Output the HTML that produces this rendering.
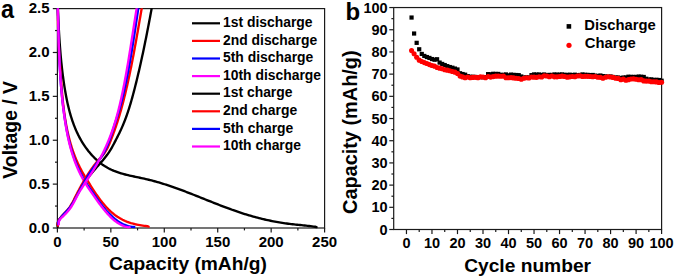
<!DOCTYPE html>
<html><head><meta charset="utf-8"><style>
html,body{margin:0;padding:0;background:#fff;}
body{width:675px;height:278px;overflow:hidden;font-family:"Liberation Sans",sans-serif;}
svg{display:block;}
</style></head><body>
<svg width="675" height="278" viewBox="0 0 675 278">
<g stroke="#1a1a1a" stroke-width="1.2" fill="none">
<rect x="57.40" y="8.60" width="267.20" height="219.40"/>
<line x1="52.80" y1="228.00" x2="57.40" y2="228.00"/>
<line x1="55.00" y1="206.06" x2="57.40" y2="206.06"/>
<line x1="52.80" y1="184.12" x2="57.40" y2="184.12"/>
<line x1="55.00" y1="162.18" x2="57.40" y2="162.18"/>
<line x1="52.80" y1="140.24" x2="57.40" y2="140.24"/>
<line x1="55.00" y1="118.30" x2="57.40" y2="118.30"/>
<line x1="52.80" y1="96.36" x2="57.40" y2="96.36"/>
<line x1="55.00" y1="74.42" x2="57.40" y2="74.42"/>
<line x1="52.80" y1="52.48" x2="57.40" y2="52.48"/>
<line x1="55.00" y1="30.54" x2="57.40" y2="30.54"/>
<line x1="52.80" y1="8.60" x2="57.40" y2="8.60"/>
<line x1="57.40" y1="228.00" x2="57.40" y2="232.40"/>
<line x1="84.12" y1="228.00" x2="84.12" y2="230.40"/>
<line x1="110.84" y1="228.00" x2="110.84" y2="232.40"/>
<line x1="137.56" y1="228.00" x2="137.56" y2="230.40"/>
<line x1="164.28" y1="228.00" x2="164.28" y2="232.40"/>
<line x1="191.00" y1="228.00" x2="191.00" y2="230.40"/>
<line x1="217.72" y1="228.00" x2="217.72" y2="232.40"/>
<line x1="244.44" y1="228.00" x2="244.44" y2="230.40"/>
<line x1="271.16" y1="228.00" x2="271.16" y2="232.40"/>
<line x1="297.88" y1="228.00" x2="297.88" y2="230.40"/>
<line x1="324.60" y1="228.00" x2="324.60" y2="232.40"/>
</g>
<defs><clipPath id="ca"><rect x="50" y="8.3" width="280" height="225"/></clipPath></defs>
<g fill="none" stroke-width="2.35" stroke-linejoin="round" stroke-linecap="round" clip-path="url(#ca)">
<path d="M57.90,8.60 L57.85,10.07 L57.92,11.58 L57.99,13.09 L58.07,14.60 L58.14,16.11 L58.22,17.62 L58.29,19.13 L58.37,20.63 L58.45,22.13 L58.53,23.63 L58.61,25.13 L58.69,26.63 L58.77,28.12 L58.86,29.62 L58.94,31.11 L59.03,32.61 L59.12,34.10 L59.21,35.59 L59.30,37.08 L59.40,38.56 L59.50,40.05 L59.60,41.54 L59.70,43.02 L59.81,44.51 L59.92,45.99 L60.03,47.47 L60.14,48.95 L60.26,50.44 L60.38,51.92 L60.50,53.40 L60.63,54.88 L60.76,56.35 L60.90,57.83 L61.04,59.31 L61.18,60.79 L61.33,62.27 L61.48,63.74 L61.64,65.22 L61.80,66.70 L61.96,68.17 L62.13,69.65 L62.31,71.13 L62.49,72.60 L62.67,74.08 L62.86,75.56 L63.06,77.03 L63.26,78.51 L63.46,79.99 L63.67,81.47 L63.89,82.94 L64.11,84.42 L64.34,85.90 L64.58,87.38 L64.82,88.86 L65.07,90.34 L65.32,91.82 L65.58,93.30 L65.85,94.78 L66.13,96.26 L66.41,97.74 L66.71,99.22 L67.01,100.70 L67.32,102.17 L67.65,103.65 L67.98,105.12 L68.32,106.59 L68.68,108.05 L69.05,109.51 L69.43,110.97 L69.82,112.43 L70.23,113.88 L70.65,115.32 L71.08,116.77 L71.53,118.20 L71.99,119.63 L72.47,121.06 L72.97,122.48 L73.48,123.89 L74.01,125.30 L74.55,126.70 L75.12,128.09 L75.70,129.47 L76.30,130.85 L76.92,132.22 L77.56,133.58 L78.22,134.93 L78.90,136.27 L79.60,137.60 L80.32,138.93 L81.06,140.24 L81.83,141.54 L82.61,142.83 L83.42,144.11 L84.25,145.37 L85.10,146.62 L85.97,147.85 L86.87,149.07 L87.78,150.27 L88.71,151.45 L89.67,152.61 L90.64,153.75 L91.63,154.87 L92.65,155.97 L93.68,157.04 L94.73,158.10 L95.80,159.12 L96.89,160.12 L98.01,161.10 L99.13,162.04 L100.28,162.96 L101.45,163.85 L102.63,164.70 L103.84,165.53 L105.06,166.32 L106.30,167.08 L107.56,167.81 L108.83,168.50 L110.12,169.16 L111.43,169.78 L112.76,170.37 L114.09,170.93 L115.45,171.46 L116.82,171.96 L118.20,172.44 L119.59,172.89 L120.99,173.32 L122.40,173.74 L123.83,174.13 L125.26,174.51 L126.70,174.87 L128.14,175.22 L129.60,175.56 L131.06,175.89 L132.52,176.21 L133.99,176.52 L135.46,176.84 L136.93,177.15 L138.41,177.46 L139.88,177.77 L141.36,178.08 L142.83,178.40 L144.31,178.72 L145.78,179.06 L147.25,179.40 L148.72,179.75 L150.18,180.11 L151.64,180.48 L153.09,180.87 L154.55,181.26 L156.00,181.66 L157.44,182.07 L158.89,182.49 L160.33,182.92 L161.77,183.35 L163.20,183.80 L164.63,184.25 L166.07,184.71 L167.49,185.17 L168.92,185.64 L170.34,186.12 L171.76,186.61 L173.18,187.10 L174.60,187.60 L176.01,188.10 L177.43,188.61 L178.84,189.12 L180.25,189.64 L181.66,190.17 L183.06,190.69 L184.47,191.22 L185.87,191.76 L187.27,192.30 L188.67,192.84 L190.07,193.38 L191.47,193.93 L192.87,194.48 L194.27,195.03 L195.67,195.58 L197.06,196.14 L198.46,196.69 L199.85,197.25 L201.25,197.81 L202.64,198.37 L204.03,198.92 L205.43,199.48 L206.82,200.04 L208.21,200.60 L209.60,201.16 L211.00,201.71 L212.39,202.26 L213.78,202.82 L215.18,203.37 L216.57,203.92 L217.97,204.46 L219.36,205.00 L220.76,205.54 L222.16,206.08 L223.55,206.62 L224.95,207.14 L226.35,207.67 L227.75,208.19 L229.16,208.71 L230.56,209.22 L231.96,209.73 L233.37,210.23 L234.78,210.72 L236.19,211.21 L237.60,211.70 L239.01,212.17 L240.42,212.64 L241.84,213.11 L243.26,213.56 L244.68,214.01 L246.10,214.45 L247.53,214.89 L248.95,215.31 L250.38,215.73 L251.81,216.15 L253.24,216.55 L254.67,216.95 L256.11,217.34 L257.55,217.72 L258.99,218.09 L260.43,218.45 L261.87,218.81 L263.32,219.16 L264.76,219.50 L266.21,219.83 L267.66,220.15 L269.12,220.46 L270.57,220.77 L272.03,221.07 L273.49,221.35 L274.95,221.63 L276.41,221.90 L277.88,222.16 L279.34,222.41 L280.81,222.65 L282.28,222.88 L283.76,223.11 L285.23,223.32 L286.71,223.52 L288.19,223.71 L289.67,223.90 L291.15,224.07 L292.64,224.24 L294.12,224.41 L295.61,224.57 L297.10,224.72 L298.59,224.88 L300.09,225.03 L301.59,225.18 L303.08,225.34 L304.59,225.49 L306.09,225.65 L307.59,225.82 L309.10,225.99 L310.61,226.17 L312.12,226.35 L313.63,226.55 L315.15,226.75 L316.50,227.10" stroke="#000"/>
<path d="M57.90,8.60 L57.95,10.26 L57.94,11.71 L57.93,13.17 L57.92,14.62 L57.92,16.08 L57.93,17.55 L57.94,19.01 L57.95,20.48 L57.97,21.95 L57.99,23.42 L58.02,24.90 L58.05,26.38 L58.09,27.86 L58.13,29.34 L58.17,30.82 L58.22,32.31 L58.27,33.80 L58.33,35.29 L58.39,36.78 L58.45,38.28 L58.52,39.77 L58.59,41.27 L58.66,42.77 L58.73,44.27 L58.81,45.77 L58.89,47.27 L58.97,48.78 L59.06,50.28 L59.15,51.79 L59.24,53.29 L59.33,54.80 L59.42,56.31 L59.52,57.82 L59.61,59.33 L59.71,60.84 L59.81,62.35 L59.92,63.86 L60.02,65.37 L60.12,66.88 L60.23,68.39 L60.34,69.91 L60.44,71.42 L60.55,72.93 L60.66,74.44 L60.77,75.95 L60.88,77.46 L60.99,78.97 L61.10,80.48 L61.21,81.99 L61.33,83.50 L61.44,85.01 L61.56,86.51 L61.68,88.02 L61.81,89.53 L61.93,91.03 L62.06,92.53 L62.19,94.03 L62.33,95.54 L62.47,97.03 L62.62,98.53 L62.77,100.03 L62.92,101.52 L63.08,103.02 L63.24,104.51 L63.41,106.00 L63.59,107.48 L63.77,108.97 L63.96,110.45 L64.15,111.93 L64.36,113.41 L64.56,114.89 L64.78,116.36 L65.00,117.83 L65.24,119.30 L65.48,120.77 L65.72,122.23 L65.98,123.69 L66.25,125.15 L66.52,126.60 L66.80,128.06 L67.10,129.50 L67.40,130.95 L67.72,132.39 L68.04,133.83 L68.37,135.27 L68.72,136.70 L69.08,138.13 L69.45,139.55 L69.83,140.97 L70.22,142.39 L70.63,143.80 L71.05,145.21 L71.48,146.62 L71.92,148.02 L72.38,149.42 L72.86,150.81 L73.34,152.20 L73.85,153.59 L74.36,154.97 L74.90,156.35 L75.45,157.72 L76.01,159.09 L76.59,160.46 L77.19,161.82 L77.80,163.18 L78.43,164.53 L79.08,165.88 L79.75,167.22 L80.44,168.56 L81.14,169.89 L81.86,171.22 L82.60,172.54 L83.36,173.86 L84.14,175.18 L84.92,176.49 L85.72,177.79 L86.52,179.09 L87.32,180.39 L88.13,181.68 L88.94,182.96 L89.74,184.24 L90.54,185.52 L91.35,186.79 L92.15,188.05 L92.96,189.31 L93.78,190.56 L94.60,191.81 L95.43,193.05 L96.27,194.29 L97.13,195.52 L97.99,196.74 L98.87,197.96 L99.76,199.16 L100.66,200.35 L101.58,201.53 L102.51,202.70 L103.46,203.85 L104.42,204.98 L105.40,206.10 L106.40,207.19 L107.42,208.27 L108.45,209.32 L109.51,210.35 L110.58,211.35 L111.68,212.33 L112.79,213.28 L113.93,214.20 L115.09,215.09 L116.28,215.95 L117.49,216.78 L118.72,217.57 L119.98,218.33 L121.26,219.05 L122.57,219.74 L123.91,220.38 L125.27,220.98 L126.66,221.55 L128.07,222.08 L129.49,222.58 L130.93,223.04 L132.39,223.47 L133.86,223.86 L135.33,224.23 L136.82,224.56 L138.30,224.87 L139.80,225.15 L141.29,225.40 L142.78,225.63 L144.26,225.83 L145.74,226.01 L147.21,226.17 L148.60,226.60" stroke="#f00"/>
<path d="M57.90,8.60 L57.87,10.22 L57.91,11.68 L57.95,13.14 L57.99,14.60 L58.02,16.07 L58.06,17.53 L58.10,19.00 L58.14,20.47 L58.18,21.94 L58.22,23.42 L58.25,24.90 L58.29,26.38 L58.33,27.86 L58.37,29.34 L58.41,30.82 L58.45,32.31 L58.50,33.79 L58.54,35.28 L58.58,36.77 L58.63,38.26 L58.67,39.76 L58.72,41.25 L58.77,42.74 L58.82,44.24 L58.87,45.74 L58.92,47.24 L58.97,48.73 L59.03,50.23 L59.08,51.74 L59.14,53.24 L59.20,54.74 L59.27,56.24 L59.33,57.74 L59.40,59.25 L59.47,60.75 L59.54,62.26 L59.61,63.76 L59.69,65.26 L59.77,66.77 L59.85,68.27 L59.94,69.78 L60.03,71.28 L60.12,72.79 L60.21,74.29 L60.31,75.80 L60.41,77.30 L60.51,78.81 L60.62,80.31 L60.73,81.81 L60.84,83.31 L60.96,84.82 L61.08,86.32 L61.20,87.82 L61.33,89.32 L61.47,90.81 L61.60,92.31 L61.74,93.81 L61.89,95.30 L62.04,96.80 L62.19,98.29 L62.35,99.78 L62.51,101.27 L62.68,102.76 L62.85,104.25 L63.03,105.74 L63.21,107.22 L63.40,108.71 L63.59,110.19 L63.79,111.67 L63.99,113.15 L64.20,114.62 L64.41,116.10 L64.63,117.57 L64.86,119.04 L65.09,120.51 L65.32,121.97 L65.56,123.43 L65.81,124.90 L66.07,126.35 L66.33,127.81 L66.60,129.26 L66.88,130.72 L67.16,132.16 L67.46,133.61 L67.76,135.05 L68.07,136.49 L68.40,137.93 L68.73,139.36 L69.07,140.80 L69.42,142.22 L69.78,143.65 L70.16,145.07 L70.54,146.49 L70.94,147.90 L71.35,149.32 L71.77,150.72 L72.20,152.13 L72.65,153.53 L73.11,154.93 L73.58,156.32 L74.07,157.71 L74.57,159.10 L75.09,160.48 L75.62,161.86 L76.17,163.23 L76.73,164.60 L77.31,165.97 L77.91,167.33 L78.52,168.69 L79.15,170.04 L79.79,171.39 L80.46,172.73 L81.14,174.07 L81.84,175.41 L82.56,176.74 L83.29,178.06 L84.05,179.39 L84.82,180.70 L85.62,182.01 L86.43,183.32 L87.26,184.62 L88.10,185.91 L88.96,187.20 L89.82,188.48 L90.69,189.75 L91.57,191.02 L92.45,192.28 L93.34,193.53 L94.22,194.77 L95.10,196.00 L95.97,197.22 L96.85,198.43 L97.71,199.64 L98.58,200.83 L99.45,202.01 L100.32,203.18 L101.20,204.34 L102.08,205.49 L102.98,206.62 L103.89,207.74 L104.81,208.85 L105.75,209.94 L106.70,211.03 L107.68,212.09 L108.67,213.14 L109.69,214.18 L110.73,215.20 L111.80,216.21 L112.89,217.20 L114.02,218.17 L115.17,219.11 L116.35,220.03 L117.56,220.91 L118.79,221.75 L120.06,222.55 L121.36,223.29 L122.69,223.98 L124.04,224.62 L125.43,225.18 L126.85,225.68 L128.31,226.11 L129.79,226.46 L131.31,226.72 L132.85,226.89 L134.30,227.00" stroke="#00f"/>
<path d="M57.90,8.60 L57.88,10.24 L57.91,11.69 L57.95,13.15 L57.98,14.61 L58.02,16.07 L58.06,17.53 L58.09,19.00 L58.13,20.47 L58.16,21.93 L58.20,23.41 L58.24,24.88 L58.28,26.36 L58.31,27.83 L58.35,29.31 L58.39,30.79 L58.43,32.28 L58.48,33.76 L58.52,35.25 L58.56,36.73 L58.61,38.22 L58.65,39.71 L58.70,41.21 L58.75,42.70 L58.80,44.19 L58.85,45.69 L58.90,47.18 L58.96,48.68 L59.01,50.18 L59.07,51.68 L59.13,53.18 L59.19,54.68 L59.26,56.18 L59.32,57.68 L59.39,59.18 L59.46,60.68 L59.54,62.19 L59.61,63.69 L59.69,65.19 L59.77,66.70 L59.85,68.20 L59.94,69.71 L60.03,71.21 L60.12,72.71 L60.21,74.22 L60.31,75.72 L60.41,77.23 L60.51,78.73 L60.62,80.23 L60.73,81.73 L60.84,83.24 L60.96,84.74 L61.08,86.24 L61.20,87.74 L61.33,89.24 L61.46,90.74 L61.59,92.23 L61.73,93.73 L61.87,95.23 L62.02,96.72 L62.17,98.22 L62.32,99.71 L62.48,101.20 L62.64,102.69 L62.81,104.18 L62.98,105.67 L63.16,107.15 L63.34,108.64 L63.52,110.12 L63.71,111.60 L63.91,113.08 L64.11,114.56 L64.31,116.03 L64.52,117.51 L64.73,118.98 L64.95,120.45 L65.18,121.91 L65.41,123.38 L65.65,124.84 L65.89,126.30 L66.14,127.76 L66.40,129.22 L66.66,130.67 L66.93,132.12 L67.21,133.57 L67.50,135.01 L67.79,136.46 L68.10,137.90 L68.41,139.33 L68.74,140.77 L69.07,142.20 L69.42,143.63 L69.77,145.05 L70.14,146.47 L70.52,147.89 L70.91,149.30 L71.31,150.72 L71.73,152.12 L72.15,153.53 L72.59,154.93 L73.05,156.33 L73.51,157.72 L74.00,159.11 L74.49,160.50 L75.00,161.88 L75.53,163.26 L76.07,164.63 L76.63,166.00 L77.20,167.37 L77.79,168.73 L78.40,170.08 L79.02,171.44 L79.67,172.79 L80.33,174.13 L81.00,175.47 L81.70,176.80 L82.42,178.13 L83.15,179.46 L83.90,180.78 L84.68,182.10 L85.47,183.41 L86.28,184.71 L87.10,186.01 L87.94,187.31 L88.79,188.59 L89.65,189.87 L90.51,191.15 L91.38,192.41 L92.26,193.67 L93.13,194.93 L94.01,196.17 L94.88,197.40 L95.75,198.63 L96.62,199.85 L97.48,201.06 L98.35,202.25 L99.22,203.44 L100.09,204.62 L100.97,205.79 L101.85,206.95 L102.74,208.09 L103.65,209.23 L104.56,210.35 L105.49,211.46 L106.43,212.56 L107.39,213.65 L108.37,214.72 L109.37,215.78 L110.40,216.83 L111.44,217.85 L112.52,218.85 L113.62,219.81 L114.75,220.75 L115.91,221.65 L117.11,222.50 L118.34,223.31 L119.61,224.07 L120.91,224.78 L122.26,225.42 L123.65,226.01 L125.08,226.53 L126.56,226.97 L128.09,227.35 L129.60,227.20" stroke="#f0f"/>
<path d="M57.70,226.80 L57.46,225.01 L57.64,223.53 L58.01,222.16 L58.55,220.87 L59.24,219.65 L60.04,218.50 L60.95,217.38 L61.91,216.30 L62.93,215.23 L63.97,214.17 L65.03,213.10 L66.09,212.03 L67.14,210.93 L68.15,209.80 L69.12,208.64 L70.02,207.43 L70.88,206.17 L71.68,204.88 L72.44,203.56 L73.17,202.22 L73.87,200.87 L74.56,199.50 L75.24,198.14 L75.92,196.79 L76.60,195.45 L77.30,194.13 L78.01,192.83 L78.73,191.55 L79.47,190.28 L80.22,189.03 L80.99,187.80 L81.76,186.58 L82.55,185.38 L83.36,184.18 L84.18,183.00 L85.01,181.82 L85.86,180.65 L86.72,179.49 L87.59,178.33 L88.48,177.18 L89.38,176.04 L90.29,174.89 L91.22,173.75 L92.16,172.60 L93.12,171.46 L94.08,170.31 L95.07,169.16 L96.06,168.00 L97.08,166.84 L98.10,165.67 L99.13,164.50 L100.18,163.31 L101.22,162.12 L102.25,160.92 L103.28,159.72 L104.29,158.51 L105.27,157.29 L106.23,156.06 L107.16,154.83 L108.04,153.59 L108.89,152.34 L109.70,151.09 L110.48,149.83 L111.24,148.56 L111.97,147.29 L112.68,146.01 L113.37,144.72 L114.06,143.43 L114.74,142.14 L115.41,140.84 L116.08,139.53 L116.75,138.21 L117.43,136.89 L118.10,135.57 L118.76,134.24 L119.42,132.90 L120.06,131.56 L120.70,130.22 L121.32,128.87 L121.93,127.51 L122.53,126.15 L123.11,124.79 L123.67,123.42 L124.23,122.05 L124.77,120.67 L125.30,119.29 L125.82,117.90 L126.32,116.51 L126.82,115.11 L127.31,113.71 L127.78,112.31 L128.25,110.91 L128.71,109.50 L129.16,108.08 L129.60,106.67 L130.03,105.25 L130.46,103.82 L130.88,102.40 L131.29,100.97 L131.70,99.53 L132.10,98.10 L132.50,96.66 L132.89,95.22 L133.27,93.77 L133.66,92.33 L134.04,90.88 L134.41,89.43 L134.79,87.97 L135.16,86.52 L135.53,85.06 L135.89,83.60 L136.26,82.14 L136.62,80.68 L136.97,79.21 L137.33,77.75 L137.68,76.28 L138.03,74.81 L138.38,73.34 L138.72,71.87 L139.06,70.39 L139.40,68.92 L139.74,67.45 L140.08,65.97 L140.41,64.49 L140.74,63.02 L141.07,61.54 L141.39,60.06 L141.72,58.58 L142.04,57.10 L142.36,55.62 L142.67,54.15 L142.99,52.67 L143.30,51.19 L143.61,49.71 L143.92,48.23 L144.23,46.75 L144.53,45.28 L144.84,43.80 L145.14,42.32 L145.44,40.85 L145.73,39.37 L146.03,37.90 L146.32,36.42 L146.61,34.95 L146.91,33.48 L147.19,32.01 L147.48,30.55 L147.77,29.08 L148.05,27.62 L148.33,26.15 L148.61,24.69 L148.89,23.23 L149.17,21.78 L149.45,20.32 L149.72,18.87 L150.00,17.42 L150.27,15.97 L150.54,14.52 L150.81,13.08 L151.08,11.64 L151.34,10.20 L151.60,8.60" stroke="#000"/>
<path d="M57.90,225.60 L57.66,223.82 L57.80,222.53 L58.20,221.27 L58.81,220.05 L59.60,218.85 L60.50,217.68 L61.49,216.53 L62.51,215.39 L63.55,214.25 L64.60,213.12 L65.63,211.99 L66.65,210.85 L67.63,209.70 L68.57,208.54 L69.45,207.36 L70.28,206.16 L71.06,204.95 L71.79,203.71 L72.49,202.47 L73.16,201.21 L73.81,199.93 L74.45,198.65 L75.09,197.35 L75.74,196.05 L76.39,194.74 L77.06,193.42 L77.74,192.10 L78.44,190.77 L79.15,189.44 L79.86,188.11 L80.59,186.77 L81.33,185.44 L82.08,184.11 L82.84,182.79 L83.61,181.46 L84.39,180.15 L85.17,178.84 L85.97,177.54 L86.77,176.25 L87.57,174.96 L88.39,173.70 L89.20,172.44 L90.03,171.20 L90.85,169.97 L91.68,168.76 L92.52,167.57 L93.36,166.40 L94.22,165.24 L95.10,164.09 L96.00,162.94 L96.95,161.80 L97.94,160.66 L98.97,159.52 L100.02,158.38 L101.07,157.22 L102.10,156.05 L103.09,154.87 L104.01,153.67 L104.87,152.45 L105.67,151.21 L106.41,149.95 L107.11,148.68 L107.76,147.39 L108.38,146.09 L108.96,144.77 L109.53,143.44 L110.08,142.10 L110.62,140.74 L111.15,139.38 L111.68,138.01 L112.21,136.62 L112.74,135.24 L113.27,133.84 L113.78,132.44 L114.30,131.03 L114.80,129.62 L115.30,128.21 L115.79,126.80 L116.27,125.38 L116.74,123.96 L117.21,122.54 L117.67,121.11 L118.12,119.68 L118.56,118.25 L119.00,116.82 L119.44,115.38 L119.86,113.95 L120.28,112.51 L120.69,111.07 L121.10,109.62 L121.50,108.18 L121.90,106.73 L122.29,105.29 L122.68,103.84 L123.06,102.39 L123.43,100.94 L123.80,99.49 L124.17,98.03 L124.53,96.58 L124.89,95.12 L125.24,93.67 L125.59,92.21 L125.94,90.76 L126.28,89.30 L126.62,87.84 L126.95,86.38 L127.28,84.93 L127.61,83.47 L127.94,82.01 L128.26,80.55 L128.58,79.09 L128.89,77.63 L129.21,76.17 L129.52,74.71 L129.82,73.25 L130.13,71.78 L130.43,70.32 L130.73,68.86 L131.03,67.40 L131.32,65.93 L131.61,64.47 L131.90,63.01 L132.19,61.54 L132.48,60.08 L132.76,58.61 L133.04,57.15 L133.32,55.68 L133.60,54.21 L133.87,52.75 L134.15,51.28 L134.42,49.81 L134.69,48.34 L134.96,46.88 L135.23,45.41 L135.49,43.94 L135.76,42.47 L136.02,41.00 L136.29,39.53 L136.55,38.06 L136.81,36.59 L137.07,35.12 L137.33,33.65 L137.59,32.18 L137.84,30.70 L138.10,29.23 L138.36,27.76 L138.61,26.29 L138.87,24.81 L139.12,23.34 L139.38,21.87 L139.63,20.39 L139.89,18.92 L140.14,17.44 L140.40,15.97 L140.65,14.49 L140.91,13.01 L141.16,11.54 L141.42,10.06 L141.70,8.60" stroke="#f00"/>
<path d="M58.15,224.10 L58.09,222.37 L58.49,221.22 L59.07,220.08 L59.82,218.94 L60.68,217.80 L61.63,216.67 L62.64,215.53 L63.68,214.39 L64.75,213.24 L65.82,212.09 L66.88,210.93 L67.91,209.76 L68.91,208.58 L69.86,207.39 L70.75,206.19 L71.58,204.97 L72.38,203.75 L73.13,202.51 L73.86,201.27 L74.56,200.02 L75.25,198.76 L75.92,197.49 L76.60,196.22 L77.27,194.93 L77.95,193.65 L78.63,192.36 L79.32,191.07 L80.02,189.77 L80.72,188.47 L81.44,187.17 L82.15,185.87 L82.88,184.56 L83.62,183.26 L84.36,181.96 L85.12,180.66 L85.88,179.36 L86.66,178.07 L87.45,176.78 L88.25,175.49 L89.06,174.21 L89.89,172.93 L90.73,171.67 L91.58,170.40 L92.45,169.15 L93.33,167.91 L94.23,166.67 L95.14,165.44 L96.05,164.21 L96.96,162.98 L97.86,161.76 L98.76,160.53 L99.64,159.30 L100.50,158.07 L101.34,156.82 L102.15,155.57 L102.93,154.30 L103.68,153.03 L104.40,151.74 L105.08,150.44 L105.73,149.13 L106.36,147.80 L106.96,146.47 L107.54,145.13 L108.09,143.78 L108.63,142.42 L109.15,141.05 L109.66,139.68 L110.15,138.30 L110.64,136.91 L111.11,135.52 L111.58,134.12 L112.04,132.72 L112.50,131.31 L112.96,129.90 L113.42,128.49 L113.88,127.07 L114.35,125.65 L114.81,124.23 L115.27,122.81 L115.73,121.38 L116.19,119.95 L116.64,118.52 L117.09,117.08 L117.54,115.65 L117.98,114.21 L118.41,112.77 L118.85,111.33 L119.27,109.89 L119.69,108.44 L120.10,107.00 L120.50,105.55 L120.89,104.10 L121.27,102.65 L121.65,101.19 L122.02,99.74 L122.38,98.29 L122.73,96.83 L123.08,95.37 L123.42,93.92 L123.75,92.46 L124.08,91.00 L124.41,89.54 L124.73,88.08 L125.05,86.62 L125.36,85.16 L125.67,83.70 L125.97,82.24 L126.28,80.78 L126.57,79.31 L126.87,77.85 L127.16,76.39 L127.45,74.92 L127.73,73.46 L128.02,71.99 L128.30,70.53 L128.57,69.06 L128.84,67.60 L129.11,66.13 L129.38,64.66 L129.64,63.19 L129.91,61.73 L130.16,60.26 L130.42,58.79 L130.68,57.32 L130.93,55.85 L131.18,54.38 L131.42,52.91 L131.67,51.44 L131.91,49.96 L132.15,48.49 L132.39,47.02 L132.63,45.55 L132.87,44.07 L133.10,42.60 L133.33,41.13 L133.57,39.65 L133.80,38.18 L134.03,36.70 L134.25,35.22 L134.48,33.75 L134.71,32.27 L134.93,30.79 L135.15,29.32 L135.38,27.84 L135.60,26.36 L135.82,24.88 L136.04,23.40 L136.26,21.92 L136.48,20.44 L136.70,18.96 L136.92,17.48 L137.14,16.00 L137.36,14.52 L137.58,13.04 L137.80,11.56 L138.02,10.08 L138.20,8.60" stroke="#00f"/>
<path d="M58.80,224.45 L58.72,222.68 L59.01,221.24 L59.55,220.04 L60.31,218.99 L61.22,218.02 L62.23,217.06 L63.30,216.06 L64.39,214.98 L65.50,213.85 L66.60,212.68 L67.67,211.47 L68.71,210.23 L69.70,208.98 L70.61,207.73 L71.46,206.48 L72.24,205.23 L72.97,203.98 L73.66,202.73 L74.32,201.49 L74.96,200.24 L75.59,199.00 L76.23,197.75 L76.87,196.51 L77.54,195.26 L78.23,194.01 L78.94,192.77 L79.67,191.52 L80.41,190.27 L81.18,189.02 L81.96,187.77 L82.75,186.52 L83.55,185.27 L84.37,184.01 L85.19,182.76 L86.01,181.50 L86.85,180.23 L87.68,178.97 L88.52,177.70 L89.35,176.43 L90.19,175.16 L91.02,173.88 L91.84,172.60 L92.66,171.31 L93.47,170.03 L94.26,168.73 L95.05,167.44 L95.83,166.13 L96.59,164.83 L97.35,163.52 L98.09,162.20 L98.82,160.89 L99.54,159.56 L100.25,158.24 L100.94,156.91 L101.63,155.58 L102.31,154.24 L102.97,152.90 L103.63,151.55 L104.27,150.21 L104.90,148.85 L105.53,147.50 L106.14,146.14 L106.74,144.78 L107.33,143.41 L107.91,142.04 L108.48,140.67 L109.04,139.30 L109.59,137.92 L110.12,136.54 L110.65,135.15 L111.17,133.76 L111.68,132.37 L112.18,130.98 L112.66,129.58 L113.14,128.18 L113.61,126.78 L114.07,125.38 L114.51,123.97 L114.95,122.56 L115.38,121.15 L115.81,119.73 L116.22,118.31 L116.63,116.89 L117.02,115.47 L117.41,114.05 L117.80,112.62 L118.17,111.19 L118.54,109.76 L118.90,108.32 L119.26,106.89 L119.61,105.45 L119.95,104.01 L120.29,102.57 L120.62,101.13 L120.95,99.68 L121.27,98.24 L121.59,96.79 L121.90,95.34 L122.21,93.88 L122.51,92.43 L122.82,90.98 L123.11,89.52 L123.41,88.06 L123.70,86.60 L123.98,85.14 L124.27,83.68 L124.55,82.22 L124.83,80.75 L125.10,79.29 L125.38,77.82 L125.65,76.35 L125.91,74.89 L126.18,73.42 L126.44,71.95 L126.70,70.47 L126.96,69.00 L127.22,67.53 L127.47,66.06 L127.72,64.58 L127.97,63.11 L128.22,61.63 L128.47,60.16 L128.71,58.68 L128.95,57.21 L129.19,55.73 L129.43,54.25 L129.67,52.78 L129.91,51.30 L130.15,49.82 L130.38,48.35 L130.62,46.87 L130.85,45.39 L131.08,43.92 L131.31,42.44 L131.55,40.96 L131.78,39.49 L132.01,38.01 L132.24,36.53 L132.47,35.06 L132.69,33.58 L132.92,32.11 L133.15,30.63 L133.38,29.16 L133.61,27.69 L133.84,26.22 L134.07,24.74 L134.30,23.27 L134.53,21.80 L134.76,20.34 L134.99,18.87 L135.22,17.40 L135.45,15.93 L135.69,14.47 L135.92,13.01 L136.16,11.54 L136.40,10.08 L136.60,8.60" stroke="#f0f"/>
</g>
<g font-family="'Liberation Sans', sans-serif" font-weight="bold" font-size="15" fill="#000">
<text x="49.6" y="232.60" text-anchor="end">0.0</text>
<text x="49.6" y="188.72" text-anchor="end">0.5</text>
<text x="49.6" y="144.84" text-anchor="end">1.0</text>
<text x="49.6" y="100.96" text-anchor="end">1.5</text>
<text x="49.6" y="57.08" text-anchor="end">2.0</text>
<text x="49.6" y="13.20" text-anchor="end">2.5</text>
<text x="57.40" y="247.3" text-anchor="middle">0</text>
<text x="110.84" y="247.3" text-anchor="middle">50</text>
<text x="164.28" y="247.3" text-anchor="middle">100</text>
<text x="217.72" y="247.3" text-anchor="middle">150</text>
<text x="271.16" y="247.3" text-anchor="middle">200</text>
<text x="324.60" y="247.3" text-anchor="middle">250</text>
</g>
<g font-family="'Liberation Sans', sans-serif" font-weight="bold" font-size="13.9" fill="#000">
<line x1="192" y1="23.30" x2="220" y2="23.30" stroke="#000" stroke-width="2.2"/>
<text x="223" y="26.90">1st discharge</text>
<line x1="192" y1="40.90" x2="220" y2="40.90" stroke="#f00" stroke-width="2.2"/>
<text x="223" y="44.50">2nd discharge</text>
<line x1="192" y1="58.50" x2="220" y2="58.50" stroke="#00f" stroke-width="2.2"/>
<text x="223" y="62.10">5th discharge</text>
<line x1="192" y1="76.10" x2="220" y2="76.10" stroke="#f0f" stroke-width="2.2"/>
<text x="223" y="79.70">10th discharge</text>
<line x1="192" y1="93.70" x2="220" y2="93.70" stroke="#000" stroke-width="2.2"/>
<text x="223" y="97.30">1st charge</text>
<line x1="192" y1="111.30" x2="220" y2="111.30" stroke="#f00" stroke-width="2.2"/>
<text x="223" y="114.90">2nd charge</text>
<line x1="192" y1="128.90" x2="220" y2="128.90" stroke="#00f" stroke-width="2.2"/>
<text x="223" y="132.50">5th charge</text>
<line x1="192" y1="146.50" x2="220" y2="146.50" stroke="#f0f" stroke-width="2.2"/>
<text x="223" y="150.10">10th charge</text>
</g>
<text font-family="'Liberation Sans', sans-serif" font-weight="bold" font-size="19.2" x="188" y="269.5" text-anchor="middle">Capacity (mAh/g)</text>
<text font-family="'Liberation Sans', sans-serif" font-weight="bold" font-size="19.4" transform="translate(17,129.8) rotate(-90)" text-anchor="middle">Voltage / V</text>
<text font-family="'Liberation Sans', sans-serif" font-weight="bold" font-size="25.5" transform="translate(1.0,17.6) scale(0.92,1)">a</text>
<g stroke="#1a1a1a" stroke-width="1.2" fill="none">
<rect x="393.70" y="7.55" width="267.90" height="221.95"/>
<line x1="389.30" y1="229.50" x2="393.70" y2="229.50"/>
<line x1="391.40" y1="218.40" x2="393.70" y2="218.40"/>
<line x1="389.30" y1="207.31" x2="393.70" y2="207.31"/>
<line x1="391.40" y1="196.21" x2="393.70" y2="196.21"/>
<line x1="389.30" y1="185.11" x2="393.70" y2="185.11"/>
<line x1="391.40" y1="174.01" x2="393.70" y2="174.01"/>
<line x1="389.30" y1="162.92" x2="393.70" y2="162.92"/>
<line x1="391.40" y1="151.82" x2="393.70" y2="151.82"/>
<line x1="389.30" y1="140.72" x2="393.70" y2="140.72"/>
<line x1="391.40" y1="129.62" x2="393.70" y2="129.62"/>
<line x1="389.30" y1="118.53" x2="393.70" y2="118.53"/>
<line x1="391.40" y1="107.43" x2="393.70" y2="107.43"/>
<line x1="389.30" y1="96.33" x2="393.70" y2="96.33"/>
<line x1="391.40" y1="85.23" x2="393.70" y2="85.23"/>
<line x1="389.30" y1="74.13" x2="393.70" y2="74.13"/>
<line x1="391.40" y1="63.04" x2="393.70" y2="63.04"/>
<line x1="389.30" y1="51.94" x2="393.70" y2="51.94"/>
<line x1="391.40" y1="40.84" x2="393.70" y2="40.84"/>
<line x1="389.30" y1="29.75" x2="393.70" y2="29.75"/>
<line x1="391.40" y1="18.65" x2="393.70" y2="18.65"/>
<line x1="389.30" y1="7.55" x2="393.70" y2="7.55"/>
<line x1="406.46" y1="229.50" x2="406.46" y2="234.10"/>
<line x1="419.21" y1="229.50" x2="419.21" y2="232.10"/>
<line x1="431.97" y1="229.50" x2="431.97" y2="234.10"/>
<line x1="444.73" y1="229.50" x2="444.73" y2="232.10"/>
<line x1="457.49" y1="229.50" x2="457.49" y2="234.10"/>
<line x1="470.24" y1="229.50" x2="470.24" y2="232.10"/>
<line x1="483.00" y1="229.50" x2="483.00" y2="234.10"/>
<line x1="495.76" y1="229.50" x2="495.76" y2="232.10"/>
<line x1="508.51" y1="229.50" x2="508.51" y2="234.10"/>
<line x1="521.27" y1="229.50" x2="521.27" y2="232.10"/>
<line x1="534.03" y1="229.50" x2="534.03" y2="234.10"/>
<line x1="546.79" y1="229.50" x2="546.79" y2="232.10"/>
<line x1="559.54" y1="229.50" x2="559.54" y2="234.10"/>
<line x1="572.30" y1="229.50" x2="572.30" y2="232.10"/>
<line x1="585.06" y1="229.50" x2="585.06" y2="234.10"/>
<line x1="597.81" y1="229.50" x2="597.81" y2="232.10"/>
<line x1="610.57" y1="229.50" x2="610.57" y2="234.10"/>
<line x1="623.33" y1="229.50" x2="623.33" y2="232.10"/>
<line x1="636.09" y1="229.50" x2="636.09" y2="234.10"/>
<line x1="648.84" y1="229.50" x2="648.84" y2="232.10"/>
<line x1="661.60" y1="229.50" x2="661.60" y2="234.10"/>
</g>
<g fill="#000">
<rect x="409.46" y="15.44" width="4.2" height="4.2"/>
<rect x="412.01" y="31.42" width="4.2" height="4.2"/>
<rect x="414.56" y="40.74" width="4.2" height="4.2"/>
<rect x="417.11" y="47.18" width="4.2" height="4.2"/>
<rect x="419.67" y="51.84" width="4.2" height="4.2"/>
<rect x="422.22" y="53.84" width="4.2" height="4.2"/>
<rect x="424.77" y="54.94" width="4.2" height="4.2"/>
<rect x="427.32" y="55.83" width="4.2" height="4.2"/>
<rect x="429.87" y="56.94" width="4.2" height="4.2"/>
<rect x="432.42" y="57.61" width="4.2" height="4.2"/>
<rect x="434.97" y="57.16" width="4.2" height="4.2"/>
<rect x="437.53" y="60.49" width="4.2" height="4.2"/>
<rect x="440.08" y="61.83" width="4.2" height="4.2"/>
<rect x="442.63" y="62.94" width="4.2" height="4.2"/>
<rect x="445.18" y="64.04" width="4.2" height="4.2"/>
<rect x="447.73" y="64.93" width="4.2" height="4.2"/>
<rect x="450.28" y="65.60" width="4.2" height="4.2"/>
<rect x="452.83" y="66.49" width="4.2" height="4.2"/>
<rect x="455.39" y="67.37" width="4.2" height="4.2"/>
<rect x="457.94" y="71.16" width="4.2" height="4.2"/>
<rect x="460.49" y="71.93" width="4.2" height="4.2"/>
<rect x="463.04" y="72.59" width="4.2" height="4.2"/>
<rect x="465.59" y="74.02" width="4.2" height="4.2"/>
<rect x="468.14" y="74.69" width="4.2" height="4.2"/>
<rect x="470.69" y="74.70" width="4.2" height="4.2"/>
<rect x="473.25" y="74.84" width="4.2" height="4.2"/>
<rect x="475.80" y="75.02" width="4.2" height="4.2"/>
<rect x="478.35" y="75.02" width="4.2" height="4.2"/>
<rect x="480.90" y="75.12" width="4.2" height="4.2"/>
<rect x="483.45" y="74.99" width="4.2" height="4.2"/>
<rect x="486.00" y="72.03" width="4.2" height="4.2"/>
<rect x="488.55" y="72.21" width="4.2" height="4.2"/>
<rect x="491.11" y="71.71" width="4.2" height="4.2"/>
<rect x="493.66" y="71.84" width="4.2" height="4.2"/>
<rect x="496.21" y="71.84" width="4.2" height="4.2"/>
<rect x="498.76" y="72.79" width="4.2" height="4.2"/>
<rect x="501.31" y="72.75" width="4.2" height="4.2"/>
<rect x="503.86" y="72.36" width="4.2" height="4.2"/>
<rect x="506.41" y="73.25" width="4.2" height="4.2"/>
<rect x="508.97" y="72.51" width="4.2" height="4.2"/>
<rect x="511.52" y="72.81" width="4.2" height="4.2"/>
<rect x="514.07" y="72.92" width="4.2" height="4.2"/>
<rect x="516.62" y="73.06" width="4.2" height="4.2"/>
<rect x="519.17" y="74.40" width="4.2" height="4.2"/>
<rect x="521.72" y="75.42" width="4.2" height="4.2"/>
<rect x="524.27" y="75.27" width="4.2" height="4.2"/>
<rect x="526.83" y="75.43" width="4.2" height="4.2"/>
<rect x="529.38" y="73.05" width="4.2" height="4.2"/>
<rect x="531.93" y="72.34" width="4.2" height="4.2"/>
<rect x="534.48" y="72.51" width="4.2" height="4.2"/>
<rect x="537.03" y="72.41" width="4.2" height="4.2"/>
<rect x="539.58" y="72.89" width="4.2" height="4.2"/>
<rect x="542.13" y="72.39" width="4.2" height="4.2"/>
<rect x="544.69" y="73.07" width="4.2" height="4.2"/>
<rect x="547.24" y="72.78" width="4.2" height="4.2"/>
<rect x="549.79" y="72.88" width="4.2" height="4.2"/>
<rect x="552.34" y="72.37" width="4.2" height="4.2"/>
<rect x="554.89" y="72.60" width="4.2" height="4.2"/>
<rect x="557.44" y="72.51" width="4.2" height="4.2"/>
<rect x="559.99" y="72.36" width="4.2" height="4.2"/>
<rect x="562.55" y="72.70" width="4.2" height="4.2"/>
<rect x="565.10" y="72.87" width="4.2" height="4.2"/>
<rect x="567.65" y="72.61" width="4.2" height="4.2"/>
<rect x="570.20" y="72.97" width="4.2" height="4.2"/>
<rect x="572.75" y="72.60" width="4.2" height="4.2"/>
<rect x="575.30" y="73.11" width="4.2" height="4.2"/>
<rect x="577.85" y="72.87" width="4.2" height="4.2"/>
<rect x="580.41" y="72.35" width="4.2" height="4.2"/>
<rect x="582.96" y="72.74" width="4.2" height="4.2"/>
<rect x="585.51" y="72.76" width="4.2" height="4.2"/>
<rect x="588.06" y="73.03" width="4.2" height="4.2"/>
<rect x="590.61" y="72.88" width="4.2" height="4.2"/>
<rect x="593.16" y="73.52" width="4.2" height="4.2"/>
<rect x="595.71" y="73.88" width="4.2" height="4.2"/>
<rect x="598.27" y="73.42" width="4.2" height="4.2"/>
<rect x="600.82" y="73.99" width="4.2" height="4.2"/>
<rect x="603.37" y="74.26" width="4.2" height="4.2"/>
<rect x="605.92" y="74.75" width="4.2" height="4.2"/>
<rect x="608.47" y="74.36" width="4.2" height="4.2"/>
<rect x="611.02" y="74.92" width="4.2" height="4.2"/>
<rect x="613.57" y="75.43" width="4.2" height="4.2"/>
<rect x="616.13" y="75.40" width="4.2" height="4.2"/>
<rect x="618.68" y="76.01" width="4.2" height="4.2"/>
<rect x="621.23" y="75.43" width="4.2" height="4.2"/>
<rect x="623.78" y="75.36" width="4.2" height="4.2"/>
<rect x="626.33" y="74.62" width="4.2" height="4.2"/>
<rect x="628.88" y="74.82" width="4.2" height="4.2"/>
<rect x="631.43" y="74.81" width="4.2" height="4.2"/>
<rect x="633.99" y="74.88" width="4.2" height="4.2"/>
<rect x="636.54" y="74.46" width="4.2" height="4.2"/>
<rect x="639.09" y="74.64" width="4.2" height="4.2"/>
<rect x="641.64" y="74.87" width="4.2" height="4.2"/>
<rect x="644.19" y="76.65" width="4.2" height="4.2"/>
<rect x="646.74" y="77.46" width="4.2" height="4.2"/>
<rect x="649.29" y="77.27" width="4.2" height="4.2"/>
<rect x="651.85" y="77.87" width="4.2" height="4.2"/>
<rect x="654.40" y="77.69" width="4.2" height="4.2"/>
<rect x="656.95" y="77.93" width="4.2" height="4.2"/>
<rect x="659.50" y="78.62" width="4.2" height="4.2"/>
</g><g fill="#f00">
<circle cx="411.56" cy="50.61" r="2.55"/>
<circle cx="414.11" cy="53.72" r="2.55"/>
<circle cx="416.66" cy="57.27" r="2.55"/>
<circle cx="419.21" cy="60.15" r="2.55"/>
<circle cx="421.77" cy="61.48" r="2.55"/>
<circle cx="424.32" cy="62.59" r="2.55"/>
<circle cx="426.87" cy="63.48" r="2.55"/>
<circle cx="429.42" cy="64.59" r="2.55"/>
<circle cx="431.97" cy="65.48" r="2.55"/>
<circle cx="434.52" cy="66.14" r="2.55"/>
<circle cx="437.07" cy="67.48" r="2.55"/>
<circle cx="439.63" cy="68.14" r="2.55"/>
<circle cx="442.18" cy="68.81" r="2.55"/>
<circle cx="444.73" cy="69.70" r="2.55"/>
<circle cx="447.28" cy="70.14" r="2.55"/>
<circle cx="449.83" cy="70.81" r="2.55"/>
<circle cx="452.38" cy="71.47" r="2.55"/>
<circle cx="454.93" cy="72.14" r="2.55"/>
<circle cx="457.49" cy="73.47" r="2.55"/>
<circle cx="460.04" cy="76.08" r="2.55"/>
<circle cx="462.59" cy="76.91" r="2.55"/>
<circle cx="465.14" cy="77.72" r="2.55"/>
<circle cx="467.69" cy="76.98" r="2.55"/>
<circle cx="470.24" cy="77.76" r="2.55"/>
<circle cx="472.79" cy="77.42" r="2.55"/>
<circle cx="475.35" cy="77.34" r="2.55"/>
<circle cx="477.90" cy="77.63" r="2.55"/>
<circle cx="480.45" cy="76.83" r="2.55"/>
<circle cx="483.00" cy="76.97" r="2.55"/>
<circle cx="485.55" cy="77.73" r="2.55"/>
<circle cx="488.10" cy="76.48" r="2.55"/>
<circle cx="490.65" cy="77.10" r="2.55"/>
<circle cx="493.21" cy="76.61" r="2.55"/>
<circle cx="495.76" cy="76.16" r="2.55"/>
<circle cx="498.31" cy="76.11" r="2.55"/>
<circle cx="500.86" cy="76.24" r="2.55"/>
<circle cx="503.41" cy="76.09" r="2.55"/>
<circle cx="505.96" cy="77.69" r="2.55"/>
<circle cx="508.51" cy="77.70" r="2.55"/>
<circle cx="511.07" cy="77.61" r="2.55"/>
<circle cx="513.62" cy="77.91" r="2.55"/>
<circle cx="516.17" cy="78.26" r="2.55"/>
<circle cx="518.72" cy="78.48" r="2.55"/>
<circle cx="521.27" cy="79.24" r="2.55"/>
<circle cx="523.82" cy="78.32" r="2.55"/>
<circle cx="526.37" cy="77.70" r="2.55"/>
<circle cx="528.93" cy="78.06" r="2.55"/>
<circle cx="531.48" cy="76.95" r="2.55"/>
<circle cx="534.03" cy="77.17" r="2.55"/>
<circle cx="536.58" cy="77.34" r="2.55"/>
<circle cx="539.13" cy="76.72" r="2.55"/>
<circle cx="541.68" cy="77.06" r="2.55"/>
<circle cx="544.23" cy="75.81" r="2.55"/>
<circle cx="546.79" cy="76.02" r="2.55"/>
<circle cx="549.34" cy="76.74" r="2.55"/>
<circle cx="551.89" cy="76.06" r="2.55"/>
<circle cx="554.44" cy="76.86" r="2.55"/>
<circle cx="556.99" cy="76.86" r="2.55"/>
<circle cx="559.54" cy="76.54" r="2.55"/>
<circle cx="562.09" cy="76.15" r="2.55"/>
<circle cx="564.65" cy="76.47" r="2.55"/>
<circle cx="567.20" cy="77.16" r="2.55"/>
<circle cx="569.75" cy="76.87" r="2.55"/>
<circle cx="572.30" cy="76.46" r="2.55"/>
<circle cx="574.85" cy="76.74" r="2.55"/>
<circle cx="577.40" cy="75.95" r="2.55"/>
<circle cx="579.95" cy="75.85" r="2.55"/>
<circle cx="582.51" cy="76.49" r="2.55"/>
<circle cx="585.06" cy="76.33" r="2.55"/>
<circle cx="587.61" cy="76.36" r="2.55"/>
<circle cx="590.16" cy="76.44" r="2.55"/>
<circle cx="592.71" cy="76.68" r="2.55"/>
<circle cx="595.26" cy="76.55" r="2.55"/>
<circle cx="597.81" cy="77.32" r="2.55"/>
<circle cx="600.37" cy="77.37" r="2.55"/>
<circle cx="602.92" cy="78.23" r="2.55"/>
<circle cx="605.47" cy="77.23" r="2.55"/>
<circle cx="608.02" cy="76.82" r="2.55"/>
<circle cx="610.57" cy="77.06" r="2.55"/>
<circle cx="613.12" cy="77.39" r="2.55"/>
<circle cx="615.67" cy="78.29" r="2.55"/>
<circle cx="618.23" cy="78.42" r="2.55"/>
<circle cx="620.78" cy="79.73" r="2.55"/>
<circle cx="623.33" cy="79.17" r="2.55"/>
<circle cx="625.88" cy="80.18" r="2.55"/>
<circle cx="628.43" cy="79.66" r="2.55"/>
<circle cx="630.98" cy="79.00" r="2.55"/>
<circle cx="633.53" cy="78.84" r="2.55"/>
<circle cx="636.09" cy="79.23" r="2.55"/>
<circle cx="638.64" cy="79.76" r="2.55"/>
<circle cx="641.19" cy="79.64" r="2.55"/>
<circle cx="643.74" cy="80.88" r="2.55"/>
<circle cx="646.29" cy="81.08" r="2.55"/>
<circle cx="648.84" cy="81.09" r="2.55"/>
<circle cx="651.39" cy="81.73" r="2.55"/>
<circle cx="653.95" cy="81.75" r="2.55"/>
<circle cx="656.50" cy="81.92" r="2.55"/>
<circle cx="659.05" cy="82.49" r="2.55"/>
<circle cx="661.60" cy="82.18" r="2.55"/>
</g>
<g font-family="'Liberation Sans', sans-serif" font-weight="bold" font-size="14.5" fill="#000">
<text x="387.6" y="234.50" text-anchor="end">0</text>
<text x="387.6" y="212.31" text-anchor="end">10</text>
<text x="387.6" y="190.11" text-anchor="end">20</text>
<text x="387.6" y="167.92" text-anchor="end">30</text>
<text x="387.6" y="145.72" text-anchor="end">40</text>
<text x="387.6" y="123.53" text-anchor="end">50</text>
<text x="387.6" y="101.33" text-anchor="end">60</text>
<text x="387.6" y="79.13" text-anchor="end">70</text>
<text x="387.6" y="56.94" text-anchor="end">80</text>
<text x="387.6" y="34.75" text-anchor="end">90</text>
<text x="387.6" y="12.55" text-anchor="end">100</text>
<text x="406.46" y="248" text-anchor="middle">0</text>
<text x="431.97" y="248" text-anchor="middle">10</text>
<text x="457.49" y="248" text-anchor="middle">20</text>
<text x="483.00" y="248" text-anchor="middle">30</text>
<text x="508.51" y="248" text-anchor="middle">40</text>
<text x="534.03" y="248" text-anchor="middle">50</text>
<text x="559.54" y="248" text-anchor="middle">60</text>
<text x="585.06" y="248" text-anchor="middle">70</text>
<text x="610.57" y="248" text-anchor="middle">80</text>
<text x="636.09" y="248" text-anchor="middle">90</text>
<text x="661.60" y="248" text-anchor="middle">100</text>
</g>
<rect x="566.6" y="24.1" width="4.6" height="4.6" fill="#000"/>
<circle cx="569" cy="45.3" r="2.6" fill="#f00"/>
<text font-family="'Liberation Sans', sans-serif" font-weight="bold" font-size="14.8" x="584.3" y="29.6">Discharge</text>
<text font-family="'Liberation Sans', sans-serif" font-weight="bold" font-size="14.8" x="584.8" y="48">Charge</text>
<text font-family="'Liberation Sans', sans-serif" font-weight="bold" font-size="19.2" x="527.6" y="271.8" text-anchor="middle">Cycle number</text>
<text font-family="'Liberation Sans', sans-serif" font-weight="bold" font-size="19.9" transform="translate(356.6,132.2) rotate(-90)" text-anchor="middle">Capacity (mAh/g)</text>
<text font-family="'Liberation Sans', sans-serif" font-weight="bold" font-size="24" x="345.4" y="19.7">b</text>
</svg>
</body></html>
